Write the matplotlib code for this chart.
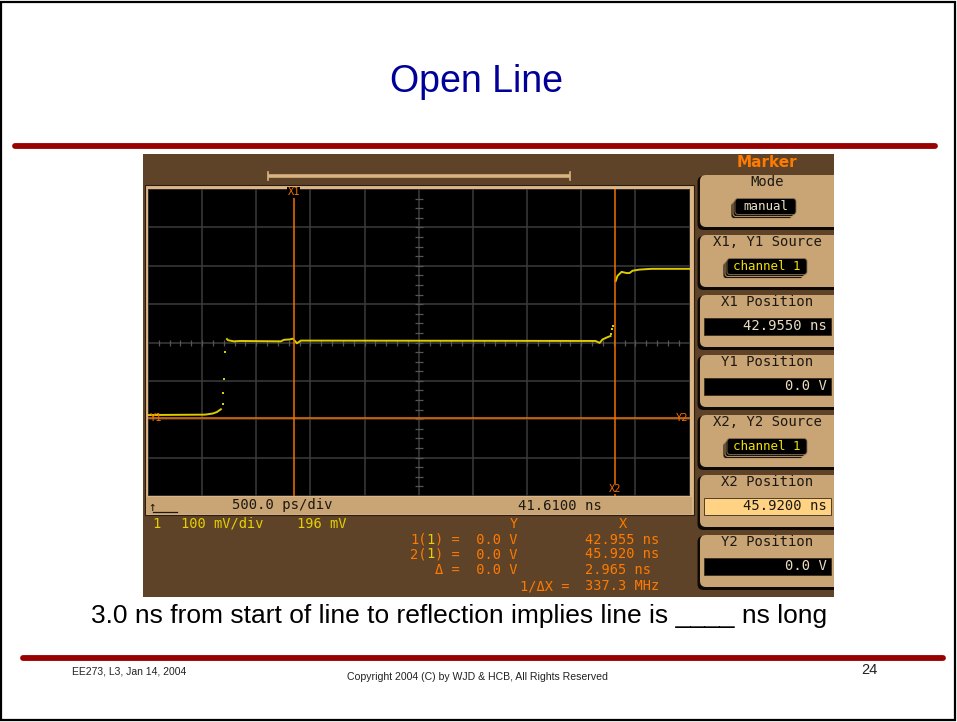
import matplotlib
matplotlib.use("Agg")
import matplotlib.pyplot as plt
from matplotlib.patches import Rectangle, FancyBboxPatch
import numpy as np

# ---------------- data ----------------
title_text = "Open Line"
caption_text = "3.0 ns from start of line to reflection implies line is ____ ns long"
footer_left = "EE273, L3, Jan 14, 2004"
footer_center = "Copyright 2004 (C) by WJD & HCB, All Rights Reserved"
page_number = "24"

# oscilloscope settings
time_ref_ns = 41.61          # left edge of screen
time_per_div_ns = 0.5
n_xdiv = 10
center_mv = 196
mv_per_div = 100
n_ydiv = 8

# trace
pre_step_t = [41.610, 42.136, 42.210, 42.247, 42.283]
pre_step_v = [7, 8, 11, 15, 22]
plateau_t = [42.339, 42.348, 42.403, 42.459, 42.837, 42.865, 42.920, 42.948, 42.985,
             43.021, 45.743, 45.780, 45.807, 45.854, 45.881]
plateau_v = [205, 202, 199, 200, 199, 203, 204, 206, 194,
             201, 200, 195, 204, 210, 213]
reflect_t = [45.928, 45.946, 45.983, 46.029, 46.057, 46.084, 46.149, 46.259, 46.610]
reflect_v = [356, 370, 380, 377, 377, 383, 386, 388, 388]
edge_dots_t = [42.302, 42.302, 42.308, 42.320, 45.888, 45.891, 45.900]
edge_dots_v = [35, 64, 101, 170, 219, 232, 240]

# markers
x1_ns = 42.955
x2_ns = 45.920
y1_mv = 0.0
y2_mv = 0.0

# status / readout text
timebase_label = "500.0 ps/div"
position_label = "41.6100 ns"
channel_label = ["1", "100 mV/div", "196 mV"]
readout_left = [("1(", "1", ") =  0.0 V"),
                ("2(", "1", ") =  0.0 V"),
                ("", "", "\u0394 =  0.0 V"),
                ("", "", "1/\u0394X =")]
readout_right = ["42.955 ns", "45.920 ns", "2.965 ns", "337.3 MHz"]

panel_labels = ["Mode", "X1, Y1 Source", "X1 Position", "Y1 Position",
                "X2, Y2 Source", "X2 Position", "Y2 Position"]
panel_values = ["manual", "channel 1", "42.9550 ns", "0.0 V",
                "channel 1", "45.9200 ns", "0.0 V"]
panel_kinds = ["button", "source", "field", "field", "source", "highlight", "field"]

# ---------------- styles ----------------
W, H = 957, 722
brown = "#5e4329"
tan = "#c9a474"
frame_tan = "#dcb686"
orange = "#ff7a00"
mark_orange = "#f27000"
yellow = "#e6d000"
trace_col = "#dccb00"
grid_col = "#3b3b3b"
dark = "#1c1812"
mono = "DejaVu Sans Mono"
sans = "Liberation Sans"

fig = plt.figure(figsize=(W / 100, H / 100), dpi=100)
fig.patch.set_facecolor("white")
bg = fig.add_axes([0, 0, 1, 1])
bg.set_xlim(0, W)
bg.set_ylim(H, 0)
bg.axis("off")

# slide border
bg.add_patch(Rectangle((1, 2), W - 3, H - 4, fill=False, ec="black", lw=1.6))

# title
bg.text(476.5, 91.5, title_text, color="#000099", fontsize=27, family=sans,
        ha="center", va="baseline")

# red rules
bg.plot([15, 935], [146, 146], color="#990000", lw=4.2, solid_capstyle="round")
bg.plot([23, 943], [657.5, 657.5], color="#990000", lw=4.2, solid_capstyle="round")

# caption & footer
bg.text(459, 623.5, caption_text, fontsize=19, family=sans, ha="center",
        va="baseline", color="black")
bg.text(72.5, 674, footer_left, fontsize=7.5, family=sans, ha="left",
        va="baseline", color="#222222")
bg.text(477.5, 679.5, footer_center, fontsize=7.6, family=sans, ha="center",
        va="baseline", color="#222222")
bg.text(869, 674, page_number, fontsize=10.5, family=sans, ha="center",
        va="baseline", color="#222222")

# ---------------- oscilloscope screenshot ----------------
sx0, sx1, sy0, sy1 = 143, 834, 154, 597
scope_rect = Rectangle((sx0, sy0), sx1 - sx0, sy1 - sy0, fc=brown, ec="none")
bg.add_patch(scope_rect)

# slider bar at top
bg.plot([268, 570], [176, 176], color="#d9b480", lw=2.6, solid_capstyle="butt")
bg.plot([268, 268], [172, 180], color="#d9b480", lw=1.2)
bg.plot([570, 570], [172, 180], color="#d9b480", lw=1.2)

# grid frame + status bar
bg.add_patch(Rectangle((144.5, 184.5), 549, 330, fc=frame_tan, ec="#2a1e10", lw=0.8))
bg.add_patch(Rectangle((146, 497), 546, 17, fc=tan, ec="none"))
bg.text(148.5, 511, "\u2191", fontsize=9, family=mono, color=dark, ha="left", va="baseline")
bg.plot([152.5, 177], [511.5, 511.5], color=dark, lw=0.9)
bg.text(232, 509.5, timebase_label, fontsize=10, family=mono, color=dark,
        ha="left", va="baseline")
bg.text(518.5, 509.5, position_label, fontsize=10, family=mono, color=dark,
        ha="left", va="baseline")

# channel + readouts
fs_r = 9.8
cw = 0.602 * fs_r * 100 / 72   # monospace advance in pixels
bg.text(152, 527.5, channel_label[0], fontsize=fs_r, family=mono, color=yellow, ha="left", va="baseline")
bg.text(181, 527.5, channel_label[1], fontsize=fs_r, family=mono, color=yellow, ha="left", va="baseline")
bg.text(297, 527.5, channel_label[2], fontsize=fs_r, family=mono, color=yellow, ha="left", va="baseline")
bg.text(514, 527.5, "Y", fontsize=fs_r, family=mono, color=orange, ha="center", va="baseline")
bg.text(623, 527.5, "X", fontsize=fs_r, family=mono, color=orange, ha="center", va="baseline")
row_base = [543.5, 558.5, 574.5, 590]
row_start = [410, 410, 435 - 3 * cw, 519.5 - 3 * cw]
for (pre, ch, rest), right_txt, yb, xs in zip(readout_left, readout_right, row_base, row_start):
    if pre:
        bg.text(xs, yb, pre, fontsize=fs_r, family=mono, color=orange, ha="left", va="baseline")
        bg.text(xs + 2 * cw, yb, ch, fontsize=fs_r, family=mono, color=yellow, ha="left", va="baseline")
    bg.text(xs + 3 * cw, yb, rest, fontsize=fs_r, family=mono, color=orange, ha="left", va="baseline")
    bg.text(585, yb, right_txt, fontsize=fs_r, family=mono, color=orange, ha="left", va="baseline")

# right-hand softkey panel
bg.text(767, 162.5, "Marker", fontsize=11, family="DejaVu Sans", weight="bold",
        color=orange, ha="center", va="center")
for k, (lab, val, kind) in enumerate(zip(panel_labels, panel_values, panel_kinds)):
    top = 175 + 60 * k
    sh = FancyBboxPatch((697.5, top + 1), 150, 54, boxstyle="round,pad=0,rounding_size=6",
                        fc="#0d0a06", ec="none")
    pn = FancyBboxPatch((700, top), 150, 52, boxstyle="round,pad=0,rounding_size=6",
                        fc=tan, ec="none")
    for p in (sh, pn):
        bg.add_patch(p)
        p.set_clip_path(scope_rect)
    bg.text(767, top + 7.5, lab, fontsize=10, family=mono, color=dark, ha="center", va="center")
    cy = top + 31.5
    if kind in ("button", "source"):
        if kind == "button":
            bx0, bx1 = 735, 796
            tc = "#efe2c4"
        else:
            bx0, bx1 = 727, 807
            tc = "#f2e200"
        for off in (4, 2):
            bg.add_patch(FancyBboxPatch((bx0 - off, cy - 8 + off), bx1 - bx0, 16,
                                        boxstyle="round,pad=0,rounding_size=3",
                                        fc="#1a140c", ec=tan, lw=0.6))
        bg.add_patch(FancyBboxPatch((bx0, cy - 8), bx1 - bx0, 16,
                                    boxstyle="round,pad=0,rounding_size=3",
                                    fc="black", ec="#8a7050", lw=0.6))
        bg.text((bx0 + bx1) / 2, cy, val, fontsize=9, family=mono, color=tc,
                ha="center", va="center")
    else:
        fc = "#ffd383" if kind == "highlight" else "black"
        tc = dark if kind == "highlight" else "#eadcc0"
        bg.add_patch(Rectangle((703.5, cy - 8.5), 127, 17, fc=fc, ec="#3a2a18", lw=0.6))
        bg.text(827, cy, val, fontsize=10, family=mono, color=tc, ha="right", va="center")

# ---------------- scope graticule axes ----------------
gx0, gx1, gy0, gy1 = 148, 689.5, 189, 496
ax = fig.add_axes([gx0 / W, 1 - gy1 / H, (gx1 - gx0) / W, (gy1 - gy0) / H])
ax.set_facecolor("black")
xmin = time_ref_ns
xmax = time_ref_ns + n_xdiv * time_per_div_ns
ymin = center_mv - n_ydiv / 2 * mv_per_div
ymax = center_mv + n_ydiv / 2 * mv_per_div
ax.set_xlim(xmin, xmax)
ax.set_ylim(ymin, ymax)
ax.set_xticks(np.linspace(xmin, xmax, n_xdiv + 1))
ax.set_yticks(np.linspace(ymin, ymax, n_ydiv + 1))
ax.grid(True, color=grid_col, lw=1.1)
ax.tick_params(length=0, labelbottom=False, labelleft=False)
for s in ax.spines.values():
    s.set_visible(False)

xc = (xmin + xmax) / 2
xt = np.arange(1, n_xdiv * 5) * time_per_div_ns / 5 + xmin
yt = np.arange(1, n_ydiv * 4) * mv_per_div / 4 + ymin
ax.plot(xt, np.full(xt.shape, center_mv), ls="none", marker="|", ms=5, mew=0.9, color="#555555")
ax.plot(np.full(yt.shape, xc), yt, ls="none", marker="_", ms=6, mew=0.9, color="#555555")

# trace
ax.plot(pre_step_t, pre_step_v, color=trace_col, lw=1.4)
ax.plot(plateau_t, plateau_v, color=trace_col, lw=1.4)
ax.plot(reflect_t, reflect_v, color=trace_col, lw=1.4)
ax.plot(edge_dots_t, edge_dots_v, ls="none", marker="s", ms=1.6, color=trace_col, mew=0)

# markers
ax.axvline(x1_ns, color=mark_orange, lw=1.1)
ax.axvline(x2_ns, color=mark_orange, lw=1.1)
ax.axhline(y1_mv, color=mark_orange, lw=1.1)
ax.text(x1_ns, ymax - 0.09 * mv_per_div, "X1", fontsize=7.5, family=mono, color=mark_orange,
        ha="center", va="center", bbox=dict(fc="black", ec="none", pad=0.2))
ax.text(x2_ns, ymin + 0.18 * mv_per_div, "X2", fontsize=7.5, family=mono, color=mark_orange,
        ha="center", va="center", bbox=dict(fc="black", ec="none", pad=0.2))
ax.text(xmin + 0.012, y1_mv, "Y1", fontsize=7.5, family=mono,
        color=mark_orange, ha="left", va="center")
ax.text(xmax - 0.012, y2_mv, "Y2", fontsize=7.5, family=mono,
        color=mark_orange, ha="right", va="center")

fig.savefig("out.png", dpi=100, facecolor="white")
